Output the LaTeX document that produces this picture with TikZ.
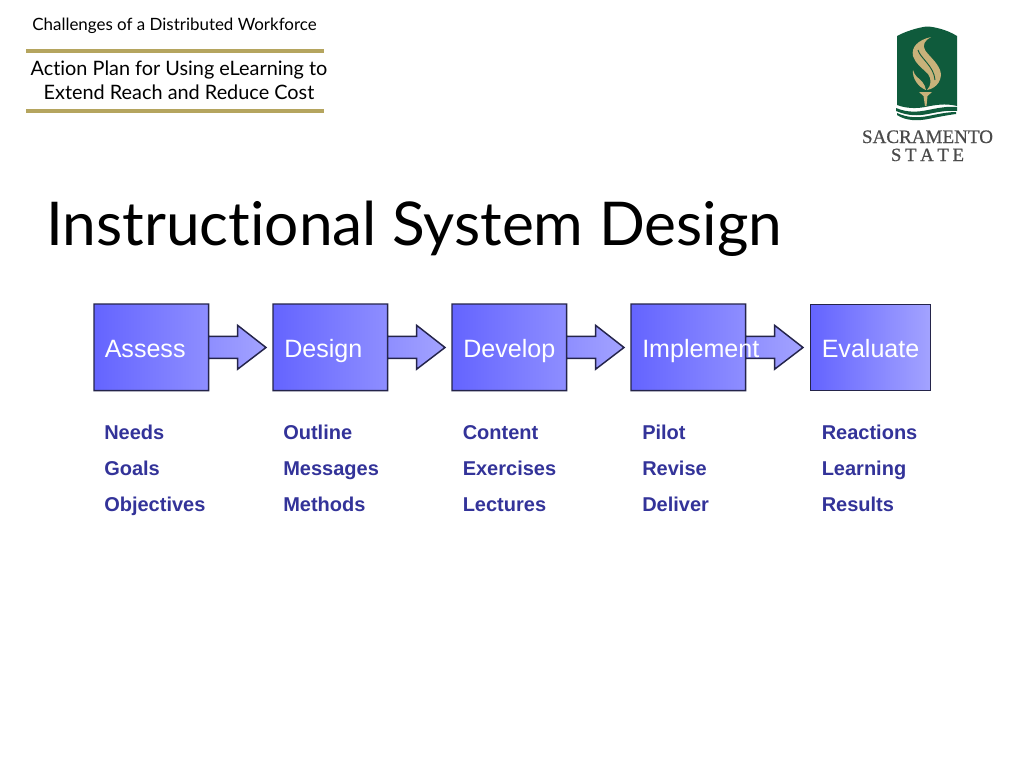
\documentclass[tikz,border=0pt]{standalone}
\usepackage{fontspec}
\setmainfont{Liberation Sans}
\newfontfamily\headfont[Ligatures=NoCommon]{Lato}
\newfontfamily\logofont[FakeBold=0.6]{Liberation Serif}
\usetikzlibrary{calc}
\definecolor{boxL}{HTML}{6464FF}
\definecolor{boxR}{HTML}{A3A3FF}
\definecolor{edgeC}{HTML}{24244A}
\definecolor{itemC}{HTML}{333399}
\definecolor{ruleC}{HTML}{B5A55F}
\definecolor{logoG}{HTML}{0F5B3C}
\definecolor{logoY}{HTML}{C8B27A}
\definecolor{logoT}{HTML}{4A4A4A}
\tikzset{
  x=0.75pt,y=-0.75pt,
  box/.style={inner sep=0pt,minimum width=114*0.75pt,minimum height=86*0.75pt,anchor=north west},
  flowshape/.style={draw=edgeC,line width=1.1pt,left color=boxL,right color=boxR},
  lab/.style={anchor=base west,inner sep=0pt,text=white,font=\fontsize{18.8pt}{20pt}\selectfont},
  item/.style={anchor=base west,inner sep=0pt,text=itemC,font=\fontsize{15pt}{17pt}\selectfont\bfseries},
  head/.style={anchor=base,inner sep=0pt,text=black,font=\headfont},
  rulel/.style={draw=ruleC,line width=2.8pt},
}
\newcommand{\flowstep}[3]{%
  \node[box] (#1) at (#2,304) {};
  \draw[flowshape] (#1.north west) -- (#1.north east) -- ($(#1.east)+(0,-11*0.75pt)$)
     -- ($(#1.east)+(29*0.75pt,-11*0.75pt)$) -- ($(#1.east)+(29*0.75pt,-22*0.75pt)$)
     -- (#3) -- ($(#1.east)+(29*0.75pt,22*0.75pt)$) -- ($(#1.east)+(29*0.75pt,11*0.75pt)$)
     -- ($(#1.east)+(0,11*0.75pt)$) -- (#1.south east) -- (#1.south west) -- cycle;
}
\begin{document}
\begin{tikzpicture}
\useasboundingbox (0,0) rectangle (1024,768);
\fill[white] (0,0) rectangle (1024,768);
% header
\node[head,font=\headfont\fontsize{12.7pt}{14pt}\selectfont] (sup) at (174.5,30) {Challenges of a Distributed Workforce};
\coordinate (r1a) at (26,51); \coordinate (r1b) at (324,51);
\coordinate (r2a) at (26,111); \coordinate (r2b) at (324,111);
\draw[rulel] (r1a) -- (r1b);
\draw[rulel] (r2a) -- (r2b);
\node[head,font=\headfont\fontsize{14.9pt}{16pt}\selectfont] (t1) at (179,75.5) {Action Plan for Using eLearning to};
\node[head,font=\headfont\fontsize{14.9pt}{16pt}\selectfont] (t2) at (179,99.5) {Extend Reach and Reduce Cost};
\node[head,font=\headfont\fontsize{45.3pt}{50pt}\selectfont] (title) at (414,245) {Instructional System Design};
% logo
\fill[logoG] (897,36) .. controls (910,29) and (925,26.5) .. (927,26.5) .. controls (932,26.5) and (946,29) .. (957,36) -- (957,106) .. controls (945,103) and (935,105) .. (925,107) .. controls (915,109) and (905,108) .. (897,105) -- cycle;
\fill[logoG] (896,108) .. controls (908,113) and (918,112) .. (928,110) .. controls (938,108) and (948,106) .. (957,107) -- (957,111) .. controls (948,110) and (938,112) .. (928,114) .. controls (918,116) and (908,116) .. (896,111) -- cycle;
\fill[logoG] (897,113) .. controls (908,118) and (918,118) .. (928,116) .. controls (938,114) and (948,112) .. (956,112) -- (956,114) .. controls (948,115) and (938,117) .. (928,119) .. controls (918,121) and (906,121) .. (897,115) -- cycle;
% flame
\fill[logoY] (931,37) .. controls (918,40) and (911,47) .. (913,56) .. controls (915,63) and (922,68) .. (928,74) .. controls (932,79) and (931,86) .. (927,90) .. controls (938,88) and (943,78) .. (940,70) .. controls (937,62) and (928,55) .. (925,50) .. controls (922,45) and (925,40) .. (931,37) -- cycle;
\draw[logoG,line width=0.7pt] (918,50) .. controls (920,58) and (934,66) .. (935,80);
\fill[logoY] (913,70) .. controls (912,78) and (918,87) .. (926,90) .. controls (925,84) and (921,80) .. (917,77) .. controls (915,75) and (914,73) .. (913,70) -- cycle;
\fill[logoY] (919,92) -- (932,92) -- (927.5,96) -- (926.5,106) -- (925,106) -- (923.5,96) -- cycle;
\node[anchor=base,inner sep=0pt,text=logoT,font=\logofont\fontsize{14.3pt}{17pt}\selectfont] (sac) at (927.5,143) {SACRAMENTO};
\node[anchor=base,inner sep=0pt,text=logoT,font=\logofont\fontsize{14pt}{15pt}\selectfont] (st) at (927.5,161) {S\hspace{0.2em}T\hspace{0.2em}A\hspace{0.2em}T\hspace{0.2em}E};
% flow
\coordinate (tipA) at (266,347.5);
\coordinate (tipB) at (445,347.5);
\coordinate (tipC) at (624,347.5);
\coordinate (tipD) at (803,347.5);
\flowstep{assess}{94}{tipA}
\flowstep{design}{273}{tipB}
\flowstep{develop}{452}{tipC}
\flowstep{implement}{631}{tipD}
\node[box,minimum width=120*0.75pt,draw=edgeC,line width=1.1pt,left color=boxL,right color=boxR] (evaluate) at (810,304) {};
\node[lab] (l1) at (104.5,357) {Assess};
\node[lab] (l2) at (284,357) {Design};
\node[lab] (l3) at (463,357) {Develop};
\node[lab] (l4) at (642,357) {Implement};
\node[lab] (l5) at (821.5,357) {Evaluate};
% lists
\node[item] (a1) at (104,439) {Needs};
\node[item] (a2) at (104,475) {Goals};
\node[item] (a3) at (104,511) {Objectives};
\node[item] (b1) at (283,439) {Outline};
\node[item] (b2) at (283,475) {Messages};
\node[item] (b3) at (283,511) {Methods};
\node[item] (c1) at (462.5,439) {Content};
\node[item] (c2) at (462.5,475) {Exercises};
\node[item] (c3) at (462.5,511) {Lectures};
\node[item] (d1) at (642,439) {Pilot};
\node[item] (d2) at (642,475) {Revise};
\node[item] (d3) at (642,511) {Deliver};
\node[item] (e1) at (821.5,439) {Reactions};
\node[item] (e2) at (821.5,475) {Learning};
\node[item] (e3) at (821.5,511) {Results};
\end{tikzpicture}
\end{document}
